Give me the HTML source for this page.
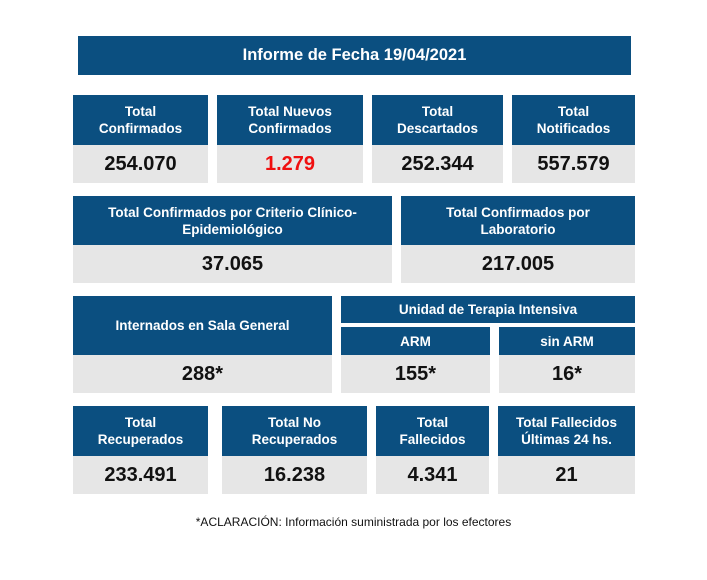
<!DOCTYPE html>
<html><head><meta charset="utf-8"><style>
body{margin:0;width:707px;height:580px;background:#fff;position:relative;font-family:"Liberation Sans",sans-serif;font-weight:bold;overflow:hidden}
.b{position:absolute;background:#0b4f80;color:#fff;display:flex;align-items:center;justify-content:center;text-align:center;font-size:13.5px;line-height:17px}
.g{position:absolute;background:#e6e6e6;color:#111;display:flex;align-items:center;justify-content:center;font-size:20px}
.f{position:absolute;left:0;width:707px;top:515px;text-align:center;font-size:12px;font-weight:normal;color:#111}
</style></head><body>
<div class="b" style="left:78px;top:36px;width:553px;height:39px;font-size:16.5px">Informe de Fecha 19/04/2021</div>

<div class="b" style="left:73px;top:95px;width:135px;height:50px">Total<br>Confirmados</div>
<div class="g" style="left:73px;top:145px;width:135px;height:38px">254.070</div>
<div class="b" style="left:217px;top:95px;width:146px;height:50px">Total Nuevos<br>Confirmados</div>
<div class="g" style="left:217px;top:145px;width:146px;height:38px;color:#f01010">1.279</div>
<div class="b" style="left:372px;top:95px;width:131px;height:50px">Total<br>Descartados</div>
<div class="g" style="left:372px;top:145px;width:131px;height:38px">252.344</div>
<div class="b" style="left:512px;top:95px;width:123px;height:50px">Total<br>Notificados</div>
<div class="g" style="left:512px;top:145px;width:123px;height:38px">557.579</div>

<div class="b" style="left:73px;top:196px;width:319px;height:49px">Total Confirmados por Criterio Clínico-<br>Epidemiológico</div>
<div class="g" style="left:73px;top:245px;width:319px;height:38px">37.065</div>
<div class="b" style="left:401px;top:196px;width:234px;height:49px">Total Confirmados por<br>Laboratorio</div>
<div class="g" style="left:401px;top:245px;width:234px;height:38px">217.005</div>

<div class="b" style="left:73px;top:296px;width:259px;height:59px">Internados en Sala General</div>
<div class="g" style="left:73px;top:355px;width:259px;height:38px">288*</div>
<div class="b" style="left:341px;top:296px;width:294px;height:27px">Unidad de Terapia Intensiva</div>
<div class="b" style="left:341px;top:327px;width:149px;height:28px">ARM</div>
<div class="g" style="left:341px;top:355px;width:149px;height:38px">155*</div>
<div class="b" style="left:499px;top:327px;width:136px;height:28px">sin ARM</div>
<div class="g" style="left:499px;top:355px;width:136px;height:38px">16*</div>

<div class="b" style="left:73px;top:406px;width:135px;height:50px">Total<br>Recuperados</div>
<div class="g" style="left:73px;top:456px;width:135px;height:38px">233.491</div>
<div class="b" style="left:222px;top:406px;width:145px;height:50px">Total No<br>Recuperados</div>
<div class="g" style="left:222px;top:456px;width:145px;height:38px">16.238</div>
<div class="b" style="left:376px;top:406px;width:113px;height:50px">Total<br>Fallecidos</div>
<div class="g" style="left:376px;top:456px;width:113px;height:38px">4.341</div>
<div class="b" style="left:498px;top:406px;width:137px;height:50px">Total Fallecidos<br>Últimas 24 hs.</div>
<div class="g" style="left:498px;top:456px;width:137px;height:38px">21</div>

<div class="f">*ACLARACIÓN: Información suministrada por los efectores</div>
</body></html>
